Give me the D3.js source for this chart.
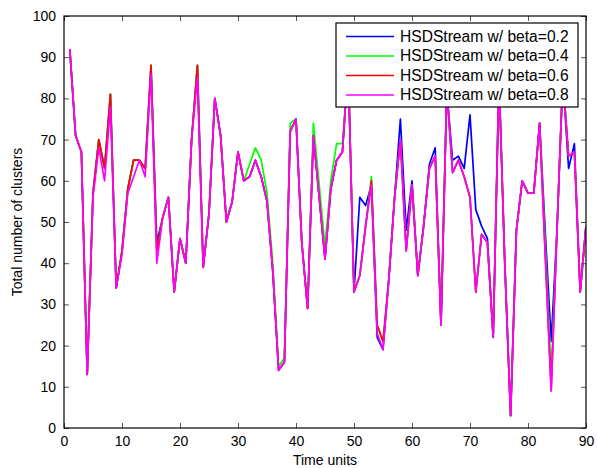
<!DOCTYPE html>
<html><head><meta charset="utf-8">
<script src="https://cdn.jsdelivr.net/npm/d3@7"></script>
<style>body{margin:0;background:#fff}svg{display:block}text{font-family:"Liberation Sans",Arial,sans-serif}</style>
</head><body>
<svg id="c" width="597" height="468"></svg>
<script>
const timeUnits = d3.range(1, 91);
const xTicks = [0,10,20,30,40,50,60,70,80,90];
const yTicks = [0,10,20,30,40,50,60,70,80,90,100];
const seriesNames = ["HSDStream w/ beta=0.2","HSDStream w/ beta=0.4","HSDStream w/ beta=0.6","HSDStream w/ beta=0.8"];
const seriesColors = ["#0000ff","#00ff00","#ff0000","#ff00ff"];
const beta02 = [92,71,67,13,57,70,63,81,34,43,58,65,65,63,88,45,51,56,33,46,40,70,88,39,52,80,71,50,55,67,
  60,61,65,61,55,38,14,16,72,75,45,29,71,56,41,58,65,67,88,33,56,54,59,22,19,36,56,75,48,60,
  37,49,64,68,25,82,65,66,63,76,53,49,46,22,85,40,3,48,60,57,57,74,47,21,48,85,63,69,33,49];
const beta04 = [92,71,67,13,57,70,63,81,34,43,58,65,65,63,88,43,51,56,33,46,40,70,88,39,52,80,71,50,55,67,
  60,64,68,65,57,40,15,17,74,75,45,29,74,59,44,60,69,69,88,33,37,49,61,25,21,36,56,70,43,59,
  37,49,63,66,25,82,62,65,61,56,33,47,45,22,85,40,3,48,60,57,57,74,44,13,48,85,66,67,33,49];
const beta06 = [92,71,67,13,57,70,63,81,34,43,58,65,65,63,88,43,51,56,33,46,40,70,88,39,52,80,71,50,55,67,
  60,61,65,61,55,38,14,16,72,75,45,29,71,56,41,58,65,67,88,33,37,49,60,25,21,36,56,70,43,59,
  37,49,63,66,25,82,62,65,61,56,33,47,45,22,85,40,3,48,60,57,57,74,41,9,48,85,66,67,33,49];
const beta08 = [92,71,67,13,56,68,60,78,34,42,57,61,65,61,86,40,51,56,33,46,40,70,85,39,52,80,71,50,55,67,
  60,61,65,61,55,38,14,16,72,75,45,29,71,56,41,58,65,67,88,33,37,49,59,23,19,36,56,70,43,59,
  37,49,63,66,25,82,62,65,61,56,33,47,45,22,85,40,3,48,60,57,57,74,41,9,48,85,66,67,33,49];
const seriesValues = [beta02, beta04, beta06, beta08];

const svg = d3.select("#c");
const L = 64, R = 586, T = 16, B = 428;
const x = d3.scaleLinear().domain([0,90]).range([L,R]);
const y = d3.scaleLinear().domain([0,100]).range([B,T]);

svg.append("clipPath").attr("id","clp").append("rect")
  .attr("x",L).attr("y",T).attr("width",R-L).attr("height",B-T);

const line = d3.line().x((d,i)=>x(timeUnits[i])).y(d=>y(d));
const g = svg.append("g").attr("clip-path","url(#clp)");
seriesValues.forEach((vals,k)=>{
  g.append("path").datum(vals).attr("d",line).attr("fill","none")
   .attr("stroke",seriesColors[k]).attr("stroke-width",1.7).attr("stroke-linejoin","round");
});

const fs = 14;
const ax = svg.append("g");
const xb = d3.axisBottom(x).tickValues(xTicks).tickSize(-5).tickPadding(8).tickFormat(d3.format("d"));
const xt = d3.axisTop(x).tickValues(xTicks).tickSize(-5).tickFormat("");
const yl = d3.axisLeft(y).tickValues(yTicks).tickSize(-5).tickPadding(8).tickFormat(d3.format("d"));
const yr = d3.axisRight(y).tickValues(yTicks).tickSize(-5).tickFormat("");
ax.append("g").attr("transform",`translate(0,${B})`).call(xb);
ax.append("g").attr("transform",`translate(0,${T})`).call(xt);
ax.append("g").attr("transform",`translate(${L},0)`).call(yl);
ax.append("g").attr("transform",`translate(${R},0)`).call(yr);
ax.selectAll(".domain").remove();
ax.selectAll(".tick line").attr("stroke","#555").attr("stroke-width",1);
ax.selectAll(".tick text").attr("font-size",fs).attr("fill","#000")
  .attr("font-family",'"Liberation Sans",Arial,sans-serif');
svg.append("rect").attr("x",L).attr("y",T).attr("width",R-L).attr("height",B-T)
  .attr("fill","none").attr("stroke","#000").attr("stroke-width",1.2);

svg.append("text").attr("x",(L+R)/2).attr("y",465).attr("text-anchor","middle")
  .attr("font-size",fs).text("Time units");
svg.append("text").attr("transform",`translate(22,${(T+B)/2}) rotate(-90)`)
  .attr("text-anchor","middle").attr("font-size",fs).text("Total number of clusters");

const lg = svg.append("g");
lg.append("rect").attr("x",336).attr("y",23).attr("width",242).attr("height",84)
  .attr("fill","#fff").attr("stroke","#000").attr("stroke-width",1.2);
seriesNames.forEach((n,k)=>{
  const yy = 36.5 + k*19.5;
  lg.append("line").attr("x1",346).attr("x2",394).attr("y1",yy).attr("y2",yy)
    .attr("stroke",seriesColors[k]).attr("stroke-width",1.5);
  lg.append("text").attr("x",400).attr("y",yy).attr("dy","0.35em").attr("font-size",15.6).text(n);
});
</script>
</body></html>
